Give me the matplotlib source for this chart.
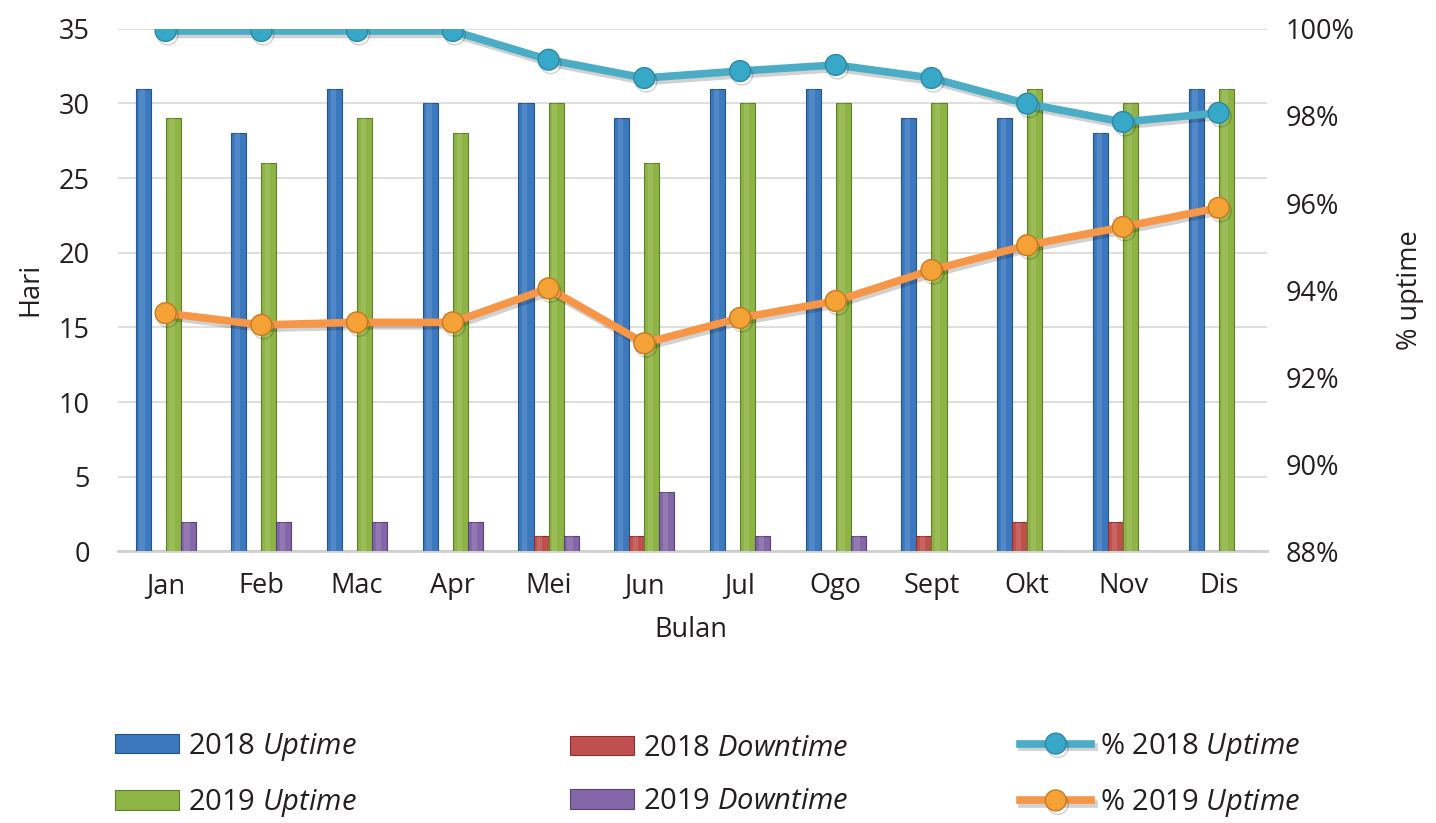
import matplotlib
matplotlib.use("Agg")
import matplotlib.pyplot as plt
import matplotlib.patheffects as pe
import numpy as np
from matplotlib.ticker import FuncFormatter, FixedLocator

plt.rcParams["font.family"] = ["Open Sans", "DejaVu Sans"]
plt.rcParams["mathtext.fontset"] = "custom"
plt.rcParams["mathtext.rm"] = "Open Sans"
plt.rcParams["mathtext.it"] = "Open Sans:italic"

months = ["Jan", "Feb", "Mac", "Apr", "Mei", "Jun", "Jul", "Ogo", "Sept", "Okt", "Nov", "Dis"]
uptime_2018 = [31, 28, 31, 30, 30, 29, 31, 31, 29, 29, 28, 31]
downtime_2018 = [0, 0, 0, 0, 1, 1, 0, 0, 1, 2, 2, 0]
uptime_2019 = [29, 26, 29, 28, 30, 26, 30, 30, 30, 31, 30, 31]
downtime_2019 = [2, 2, 2, 2, 1, 4, 1, 1, 0, 0, 0, 0]
pct_2018 = [99.95, 99.95, 99.95, 99.95, 99.29, 98.87, 99.03, 99.17, 98.87, 98.28, 97.86, 98.07]
pct_2019 = [93.47, 93.20, 93.26, 93.26, 94.04, 92.78, 93.36, 93.75, 94.46, 95.03, 95.45, 95.89]

c_blue = "#3b78be"
c_red = "#c0504d"
c_green = "#8db444"
c_purple = "#8467a8"
c_cyan = "#4bacc6"
c_orange = "#f79646"
txt = "#231f20"
fs = 19.5

fig = plt.figure(figsize=(14.36, 8.23), dpi=100)
ax = fig.add_axes([0.082, 0.330, 0.800, 0.635])
ax2 = ax.twinx()

x = np.arange(len(months))
w = 0.157
series = [
    (uptime_2018, c_blue, "#24548c"),
    (downtime_2018, c_red, "#8a2f2c"),
    (uptime_2019, c_green, "#5f7f28"),
    (downtime_2019, c_purple, "#56427a"),
]
bar_handles = []
for i, (vals, col, edge) in enumerate(series):
    off = (i - 1.5) * w
    bars = ax.bar(x + off, vals, width=w, color=col, edgecolor=edge, linewidth=0.8, zorder=3)
    # soft highlight down the middle of each bar
    ax.bar(x + off - w * 0.08, vals, width=w * 0.35, color="white", alpha=0.12,
           linewidth=0, zorder=3.5)
    bar_handles.append(bars)

ax.set_xlim(-0.5, len(months) - 0.5)
ax.set_ylim(0, 35)
ax.yaxis.set_major_locator(FixedLocator(range(0, 36, 5)))
ax.grid(axis="y", color="#d9d9d9", linewidth=1.2, zorder=0)
ax.set_axisbelow(True)
for s in ["top", "left", "right"]:
    ax.spines[s].set_visible(False)
    ax2.spines[s].set_visible(False)
ax.spines["bottom"].set_color("#d0d0d0")
ax.spines["bottom"].set_linewidth(2)
ax2.spines["bottom"].set_visible(False)

ax.set_xticks(x)
ax.set_xticklabels(months)
ax.tick_params(axis="x", length=0, pad=15, labelsize=fs, colors=txt)
ax.tick_params(axis="y", length=0, pad=20, labelsize=fs, colors=txt)

shadow = [pe.SimpleLineShadow(offset=(1.5, -2.5), alpha=0.18, shadow_color="black"), pe.Normal()]
l1, = ax2.plot(x, pct_2018, color=c_cyan, lw=5.5, marker="o", markersize=15,
               markerfacecolor="#37a8c8", markeredgecolor="#2a8aa5", markeredgewidth=1,
               zorder=5, path_effects=shadow)
l2, = ax2.plot(x, pct_2019, color=c_orange, lw=5.5, marker="o", markersize=15,
               markerfacecolor="#f4a235", markeredgecolor="#c9781f", markeredgewidth=1,
               zorder=5, path_effects=shadow)
ax2.set_ylim(88, 100)
ax2.yaxis.set_major_locator(FixedLocator(range(88, 101, 2)))
ax2.yaxis.set_major_formatter(FuncFormatter(lambda v, p: f"{v:.0f}%"))
ax2.tick_params(axis="y", length=0, pad=14, labelsize=fs, colors=txt)

fig.text(0.021, 0.648, "Hari", rotation=90, ha="center", va="center", fontsize=fs, color=txt)
fig.text(0.982, 0.648, "% uptime", rotation=90, ha="center", va="center", fontsize=fs, color=txt)
fig.text(0.481, 0.234, "Bulan", ha="center", va="center", fontsize=fs, color=txt)

# legend: three columns placed independently
legend_cols = [
    ([bar_handles[0], bar_handles[2]], [r"2018 $\mathit{Uptime}$", r"2019 $\mathit{Uptime}$"], 115, 2.2),
    ([bar_handles[1], bar_handles[3]], [r"2018 $\mathit{Downtime}$", r"2019 $\mathit{Downtime}$"], 570, 2.2),
    ([l1, l2], [r"% 2018 $\mathit{Uptime}$", r"% 2019 $\mathit{Uptime}$"], 1020, 2.45),
]
for hs, ls, px, hl in legend_cols:
    leg = fig.legend(hs, ls, loc="center left", bbox_to_anchor=(px / 1436, 1 - 775 / 823),
                     frameon=False, fontsize=21, handlelength=hl, handleheight=0.65,
                     handletextpad=0.3, labelspacing=0.85, borderpad=0, borderaxespad=0,
                     labelcolor=txt)

fig.savefig("out.png", dpi=100, facecolor="white")
